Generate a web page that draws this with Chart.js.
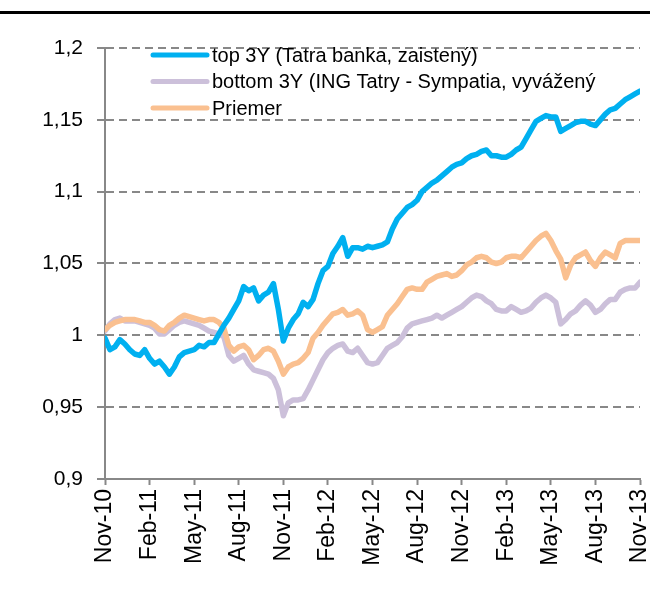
<!DOCTYPE html>
<html>
<head>
<meta charset="utf-8">
<script src="https://cdn.jsdelivr.net/npm/chart.js@4/dist/chart.umd.min.js"></script>
<style>
  html, body { margin: 0; padding: 0; background: #fff; }
  #wrap { position: relative; width: 650px; height: 599px; }
</style>
</head>
<body>
<div id="wrap"><canvas id="chart"></canvas></div>
<script>
// tick labels on the time axis, one every 3 months; data sampled every ~10 days (9 samples per tick)
const tickLabels = ["Nov-10", "Feb-11", "May-11", "Aug-11", "Nov-11", "Feb-12", "May-12",
  "Aug-12", "Nov-12", "Feb-13", "May-13", "Aug-13", "Nov-13"];
const samplesPerTick = 9;

const seriesNames = ["top 3Y (Tatra banka, zaistený)", "bottom 3Y (ING Tatry - Sympatia, vyvážený", "Priemer"];

const topValues = [
  0.998, 0.990, 0.992, 0.997, 0.994, 0.990, 0.987, 0.986, 0.990, 0.984,
  0.980, 0.982, 0.978, 0.973, 0.978, 0.985, 0.988, 0.989, 0.990, 0.993,
  0.992, 0.995, 0.995, 1.001, 1.007, 1.012, 1.018, 1.024, 1.034, 1.031,
  1.033, 1.024, 1.028, 1.030, 1.036, 1.018, 0.996, 1.005, 1.011, 1.015,
  1.023, 1.020, 1.025, 1.036, 1.045, 1.048, 1.057, 1.062, 1.068, 1.055,
  1.061, 1.061, 1.060, 1.062, 1.061, 1.062, 1.063, 1.065, 1.074, 1.081,
  1.085, 1.089, 1.091, 1.094, 1.100, 1.103, 1.106, 1.108, 1.111, 1.114,
  1.117, 1.119, 1.120, 1.123, 1.125, 1.126, 1.128, 1.129, 1.125, 1.125,
  1.124, 1.124, 1.126, 1.129, 1.131, 1.137, 1.143, 1.149, 1.151, 1.153,
  1.152, 1.152, 1.142, 1.144, 1.146, 1.148, 1.149, 1.149, 1.147, 1.146,
  1.150, 1.154, 1.157, 1.158, 1.161, 1.164, 1.166, 1.168, 1.170
];

const bottomValues = [
  1.003, 1.008, 1.011, 1.012, 1.010, 1.010, 1.010, 1.009, 1.008, 1.007,
  1.005, 1.001, 1.001, 1.004, 1.007, 1.009, 1.010, 1.009, 1.008, 1.007,
  1.005, 1.003, 1.002, 1.001, 0.999, 0.986, 0.982, 0.984, 0.986, 0.980,
  0.976, 0.975, 0.974, 0.973, 0.970, 0.962, 0.944, 0.953, 0.955, 0.955,
  0.956, 0.962, 0.969, 0.976, 0.983, 0.988, 0.991, 0.993, 0.994, 0.989,
  0.988, 0.991, 0.986, 0.981, 0.980, 0.981, 0.986, 0.991, 0.993, 0.995,
  0.999, 1.005, 1.008, 1.009, 1.010, 1.011, 1.012, 1.014, 1.012, 1.014,
  1.016, 1.018, 1.020, 1.023, 1.026, 1.028, 1.027, 1.024, 1.022, 1.018,
  1.017, 1.017, 1.020, 1.018, 1.016, 1.017, 1.019, 1.023, 1.026, 1.028,
  1.026, 1.023, 1.008, 1.011, 1.015, 1.017, 1.021, 1.024, 1.021, 1.016,
  1.018, 1.022, 1.025, 1.025, 1.030, 1.032, 1.033, 1.033, 1.037
];

const averageValues = [
  1.004, 1.007, 1.009, 1.010, 1.011, 1.011, 1.011, 1.010, 1.009, 1.009,
  1.007, 1.004, 1.003, 1.007, 1.009, 1.012, 1.014, 1.013, 1.012, 1.011,
  1.010, 1.011, 1.011, 1.009, 1.005, 0.993, 0.989, 0.992, 0.993, 0.990,
  0.983, 0.986, 0.990, 0.991, 0.989, 0.982, 0.973, 0.978, 0.980, 0.981,
  0.984, 0.988, 0.998, 1.002, 1.007, 1.011, 1.015, 1.016, 1.018, 1.014,
  1.015, 1.017, 1.014, 1.004, 1.002, 1.004, 1.006, 1.014, 1.018, 1.022,
  1.027, 1.032, 1.033, 1.032, 1.032, 1.037, 1.039, 1.041, 1.042, 1.043,
  1.041, 1.042, 1.045, 1.049, 1.051, 1.054, 1.055, 1.054, 1.051, 1.050,
  1.051, 1.054, 1.055, 1.055, 1.054, 1.058, 1.062, 1.066, 1.069, 1.071,
  1.066, 1.059, 1.053, 1.040, 1.049, 1.054, 1.056, 1.058, 1.052, 1.048,
  1.054, 1.058, 1.056, 1.054, 1.064, 1.066, 1.066, 1.066, 1.066
];

const yTicks = { min: 0.9, max: 1.2, step: 0.05 };

const colors = ["rgb(0, 176, 240)", "rgb(204, 192, 218)", "rgb(250, 192, 144)"];
const FONT = "'Liberation Sans', Arial, sans-serif";

function toPoints(values) {
  return values.map((v, i) => ({ x: i, y: v }));
}

// black rule across the top + legend inside the plot
const decorations = {
  id: "decorations",
  afterDraw(chart) {
    const ctx = chart.ctx;
    ctx.save();
    ctx.fillStyle = "#000";
    ctx.fillRect(0, 11, chart.width, 3);

    ctx.font = "20px " + FONT;
    ctx.textBaseline = "middle";
    ctx.lineCap = "round";
    chart.data.datasets.forEach((ds, i) => {
      const y = 55 + i * 26.5;
      ctx.strokeStyle = ds.borderColor;
      ctx.lineWidth = 5;
      ctx.beginPath();
      ctx.moveTo(153, y);
      ctx.lineTo(207, y);
      ctx.stroke();
      ctx.fillStyle = "#000";
      ctx.fillText(ds.label, 212, y + 1);
    });
    ctx.restore();
  },
};

document.addEventListener("DOMContentLoaded", function () {
  const ctx = document.getElementById("chart").getContext("2d");
  const lastIndex = topValues.length - 1;

  new Chart(ctx, {
    type: "line",
    data: {
      datasets: [
        { label: seriesNames[0], data: toPoints(topValues), borderColor: colors[0], order: 0 },
        { label: seriesNames[1], data: toPoints(bottomValues), borderColor: colors[1], order: 2 },
        { label: seriesNames[2], data: toPoints(averageValues), borderColor: colors[2], order: 1 },
      ],
    },
    options: {
      responsive: true,
      maintainAspectRatio: false,
      animation: false,
      layout: { padding: { top: 48, right: 10, bottom: 0, left: 0 } },
      elements: {
        point: { radius: 0 },
        line: { borderWidth: 5.5, tension: 0, borderJoinStyle: "round", borderCapStyle: "round" },
      },
      plugins: {
        legend: { display: false },
        tooltip: { enabled: false },
      },
      scales: {
        x: {
          type: "linear",
          min: 0,
          max: lastIndex,
          afterFit(scale) {
            scale.height = 120;
            scale.paddingLeft = 0;
            scale.paddingRight = 0;
          },
          ticks: {
            stepSize: samplesPerTick,
            autoSkip: false,
            minRotation: 90,
            maxRotation: 90,
            padding: 4,
            color: "#000",
            font: { family: FONT, size: 23 },
            callback: (v) => tickLabels[Math.round(v / samplesPerTick)],
          },
          grid: {
            drawOnChartArea: false,
            drawTicks: true,
            tickLength: 6,
            tickColor: "#888",
            tickWidth: 2,
          },
          border: { display: true, color: "#888", width: 2 },
        },
        y: {
          min: yTicks.min,
          max: yTicks.max,
          afterFit(scale) {
            scale.width = 105;
            scale.paddingTop = 0;
            scale.paddingBottom = 0;
          },
          ticks: {
            stepSize: yTicks.step,
            padding: 14,
            color: "#000",
            font: { family: FONT, size: 21 },
            callback: (v) => Number(v.toFixed(2)).toString().replace(".", ","),
          },
          grid: {
            color: "#888",
            lineWidth: 2,
            tickLength: 8,
            tickColor: "#888",
            tickWidth: 2,
          },
          border: { display: true, color: "#888", width: 2, dash: [8, 5] },
        },
      },
    },
    plugins: [decorations],
  });
});
</script>
</body>
</html>
